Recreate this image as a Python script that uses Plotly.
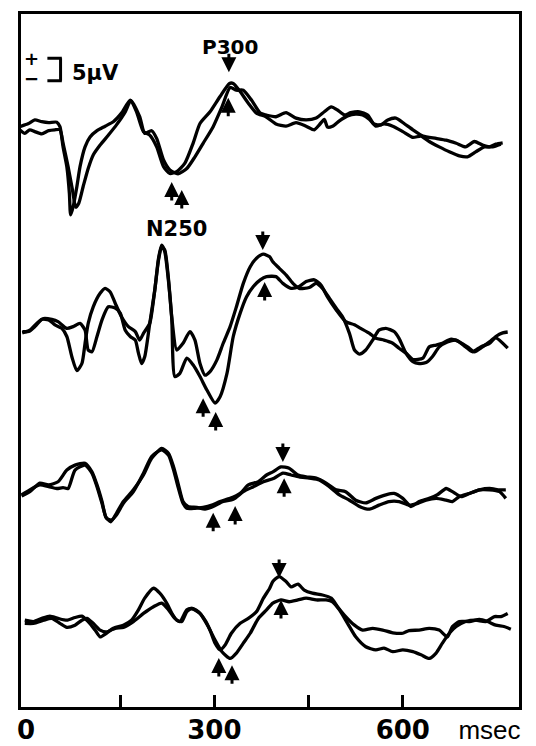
import plotly.graph_objects as go

# ---------------- data (time in ms, amplitude in microvolts) ----------------
p1_a_t = [-10,4,14,25,36,49,54,59,65,69,71,75,81,86,94,102,113,126,139,152,166,176,187,197,208,219,229,240,253,266,277,293,309,324,330,341,354,367,382,398,414,430,446,459,467,475,480,488,499,512,525,536,547,557,570,584,600,616,629,642,658,674,690,703,716,730,743,756]
p1_a_v = [0.3,1.0,1.8,1.4,1.2,1.3,0.3,-4.2,-8.6,-14.5,-19.3,-17.5,-13.0,-8.6,-4.2,-2.0,-0.6,0.4,1.4,3.3,6.2,3.6,-0.8,-1.6,-4.2,-8.6,-10.1,-9.7,-7.8,-3.4,1.0,3.6,7.0,9.9,9.9,8.1,5.5,3.3,2.5,0.9,0.4,1.2,0.4,-0.4,0.7,1.9,0.2,0.4,1.6,2.7,3.1,2.9,1.9,0.4,0.9,0.4,-0.8,-2.1,-1.8,-3.0,-4.2,-5.3,-6.2,-6.4,-5.3,-4.2,-4.2,-3.6]
p1_b_t = [-10,-2,6,14,25,36,46,54,59,67,74,79,84,91,99,107,118,131,144,158,167,181,189,200,208,219,229,242,256,269,282,298,312,325,335,346,359,373,382,398,414,430,446,462,475,486,496,507,517,531,544,554,565,576,589,602,616,632,653,669,685,700,714,727,738,748,759]
p1_b_v = [-0.4,-1.2,-0.4,-0.8,-1.3,-0.6,-0.4,-0.4,-3.4,-8.6,-13.8,-17.6,-16.7,-13.0,-9.0,-6.0,-3.8,-1.6,0.7,3.6,6.1,2.5,-1.2,-0.6,-2.3,-7.1,-9.3,-10.2,-9.0,-6.4,-3.4,0.3,4.7,9.0,8.4,8.4,6.2,3.3,2.9,2.5,3.4,2.2,1.8,2.2,3.6,4.7,4.0,2.9,3.4,3.6,2.9,0.9,0.7,1.8,2.2,1.0,-0.4,-1.8,-2.3,-2.7,-3.4,-4.2,-3.0,-3.8,-4.2,-3.6,-3.3]

p2_a_t = [-6,4,14,25,36,46,57,65,73,81,89,94,99,107,118,126,134,142,152,163,174,181,187,197,205,211,216,221,227,232,240,250,261,269,277,285,293,304,314,325,335,346,357,367,378,388,393,403,414,425,435,451,462,472,483,494,504,515,523,531,541,552,562,573,586,594,605,616,626,637,647,658,671,685,700,711,724,738,748,767]
p2_a_v = [0.1,0.1,1.2,2.8,2.7,1.6,0.8,-1.0,-5.5,-8.6,-7.0,-2.5,1.9,5.6,8.6,9.7,8.9,6.4,3.4,1.2,0.1,-1.8,-0.3,1.9,9.3,16.0,19.0,18.2,11.6,3.4,-4.0,-2.5,0.1,-1.8,-7.0,-9.6,-8.8,-6.2,-2.5,1.2,5.6,10.8,14.5,16.4,17.3,16.7,15.6,14.2,12.7,10.8,9.7,9.9,10.8,9.7,7.5,5.3,3.4,-0.3,-4.0,-4.9,-4.0,-1.8,0.4,0.8,0.1,-1.4,-4.7,-6.6,-7.0,-6.8,-5.5,-3.3,-2.2,-1.8,-3.3,-4.4,-3.3,-2.5,-1.3,-3.6]
p2_b_t = [-6,6,17,28,41,51,65,75,86,94,99,105,113,121,131,142,150,158,166,174,179,184,189,197,205,211,216,221,227,232,237,245,256,266,277,288,301,309,320,330,341,351,362,373,383,398,409,422,435,446,459,470,480,494,509,523,533,547,557,570,584,594,605,616,632,642,653,663,677,690,703,714,727,738,748,759,767]
p2_b_v = [-0.2,0.4,1.9,3.0,2.8,2.3,0.8,1.2,1.9,0.4,-4.0,-4.4,-1.0,2.7,5.6,5.3,4.2,0.4,-1.0,-1.8,-4.7,-7.0,-5.5,1.9,9.3,16.4,19.3,17.8,11.1,3.1,-9.9,-9.2,-5.8,-7.3,-9.9,-12.9,-15.8,-14.4,-9.2,-1.0,4.2,7.8,10.1,11.6,12.3,12.3,10.8,9.7,10.1,11.2,11.6,10.4,7.8,4.9,2.3,1.6,0.8,-0.3,-1.4,-1.8,-2.5,-3.6,-4.7,-6.1,-5.8,-3.3,-2.9,-2.5,-1.6,-2.2,-3.3,-4.4,-3.3,-2.2,-1.0,-0.2,0.0]

p3_a_t = [-7,6,22,36,49,59,67,78,94,105,113,121,128,136,144,155,171,187,200,216,227,235,242,250,256,269,282,296,309,325,341,354,370,383,393,406,419,433,446,462,478,494,509,525,541,557,573,586,600,613,626,642,655,669,679,693,706,722,738,754,764]
p3_a_v = [-0.4,0.7,1.8,1.4,1.0,1.2,1.0,5.1,6.2,4.4,1.4,-2.3,-5.6,-6.0,-4.9,-2.3,0.3,4.4,8.1,9.6,8.4,5.1,1.4,-2.3,-3.4,-3.4,-3.2,-2.7,-1.9,-1.2,-0.1,1.8,2.5,4.0,4.7,5.8,5.5,4.0,3.6,3.3,2.2,0.7,0.3,-1.6,-2.2,-1.2,-0.4,-0.1,-1.2,-3.0,-1.9,-1.2,-0.4,1.0,0.3,-0.8,-0.1,0.7,0.7,0.3,-1.2]
p3_b_t = [-7,6,22,36,51,65,78,94,105,113,121,127,135,144,155,171,187,200,216,227,235,242,250,258,272,285,298,314,330,346,362,378,395,409,422,435,451,467,483,499,515,531,547,562,578,594,610,624,637,653,669,679,690,706,722,738,754,764]
p3_b_v = [-0.7,0.3,2.2,1.8,2.5,5.1,6.2,6.6,4.7,1.8,-1.9,-5.3,-6.4,-4.5,-1.9,0.7,4.0,7.7,9.9,8.8,5.8,2.2,-1.9,-3.0,-3.2,-3.6,-3.0,-1.9,-1.4,0.3,1.4,2.5,3.3,4.4,4.0,3.6,3.3,2.9,1.4,-0.4,-1.6,-3.0,-3.6,-2.7,-1.9,-1.9,-2.7,-2.3,-1.6,-1.2,-1.6,-1.9,-0.8,-0.1,0.7,1.0,0.7,0.7]

p4_a_t = [-2,12,25,38,51,65,78,89,99,110,118,128,139,155,168,179,189,203,213,224,232,240,248,256,264,274,285,293,301,309,317,327,341,354,367,378,388,393,403,414,422,433,443,456,472,486,496,509,523,536,552,568,584,600,610,626,642,658,671,679,690,706,722,735,748,761,772]
p4_a_v = [0.4,0.1,0.8,1.3,0.8,0.4,1.0,1.3,0.1,-1.8,-3.3,-2.5,-1.4,-0.7,0.4,2.7,5.3,7.5,6.4,4.2,2.0,0.4,0.1,2.3,3.0,2.3,0.4,-1.8,-4.7,-6.2,-5.1,-2.5,-0.3,0.8,2.3,5.3,7.5,9.0,10.1,9.0,7.8,8.4,7.1,6.4,6.0,5.3,3.4,1.2,-0.7,-1.8,-1.4,-1.8,-2.4,-2.5,-1.9,-1.8,-1.4,-1.8,-3.3,-1.0,0.1,0.1,0.6,0.1,-0.7,-1.0,-1.6]
p4_b_t = [-2,12,28,41,54,65,78,89,97,107,118,128,142,155,171,187,203,216,227,237,245,256,264,277,290,301,312,325,335,346,357,370,383,393,406,419,433,446,462,478,488,499,512,525,541,557,570,584,600,616,629,642,653,663,674,685,700,716,732,746,756,767]
p4_b_v = [-0.3,-0.3,0.4,0.8,-0.3,-1.2,-0.7,0.4,0.8,-0.3,-1.8,-2.2,-1.4,-1.2,0.1,1.9,3.4,4.2,2.7,0.8,0.1,2.7,3.0,1.9,-1.0,-4.0,-6.6,-8.1,-6.9,-4.7,-2.5,0.8,2.7,4.2,4.9,4.5,4.9,5.3,4.9,4.9,4.5,2.7,-0.3,-3.3,-5.5,-6.2,-5.8,-6.6,-6.2,-6.6,-7.3,-8.1,-6.9,-4.7,-2.5,-1.0,0.1,0.4,0.1,1.2,1.2,1.9]

# latency markers: panel, time (ms), amplitude at arrow tip (uV), direction
arrow_panel = [1, 1, 1, 1, 2, 2, 2, 2, 3, 3, 3, 3, 4, 4, 4, 4]
arrow_t = [323, 322, 232, 248, 377, 380, 282, 302, 298, 333, 409, 411, 307, 328, 403, 406]
arrow_v = [12.4, 6.7, -12.0, -13.8, 18.2, 11.1, -14.7, -17.8, -4.4, -2.9, 6.9, 3.3, -8.0, -9.6, 9.8, 4.9]
arrow_dir = ["down", "up", "up", "up", "down", "up", "up", "up", "up", "up", "down", "up", "up", "up", "down", "up"]

tick_marks = [150, 300, 450, 600]
tick_label_vals = [0, 300, 600, 738]
tick_label_text = ["<b>0</b>", "<b>300</b>", "<b>600</b>",
                   '<span style="font-family:Liberation Sans">msec</span>']
scale_uv = 5

# ---------------- figure ----------------
BODY = 8                      # default page margin around the plot div
W, H = 536 - BODY, 746 - BODY
panels = [(p1_a_t, p1_a_v, p1_b_t, p1_b_v),
          (p2_a_t, p2_a_v, p2_b_t, p2_b_v),
          (p3_a_t, p3_a_v, p3_b_t, p3_b_v),
          (p4_a_t, p4_a_v, p4_b_t, p4_b_v)]

fig = go.Figure()
line_style = dict(color="black", width=3.3, shape="spline", smoothing=0.6)
for i, (at, av, bt, bv) in enumerate(panels):
    yref = "y" if i == 0 else f"y{i+1}"
    fig.add_trace(go.Scatter(x=at, y=av, mode="lines", line=line_style,
                             yaxis=yref, showlegend=False, hoverinfo="skip"))
    fig.add_trace(go.Scatter(x=bt, y=bv, mode="lines", line=line_style,
                             yaxis=yref, showlegend=False, hoverinfo="skip"))
# carrier for the label axis
fig.add_trace(go.Scatter(x=[None], y=[None], xaxis="x2", yaxis="y",
                         showlegend=False, hoverinfo="skip"))

# layout geometry (page pixels)
left_px, right_px, top_px, bottom_px = 21, 519, 14, 707
ml, mt = left_px - BODY, top_px - BODY
mr, mb = W - (right_px - BODY), H - (bottom_px - BODY)
px_per_uv = 4.5
baselines_px = [128, 332, 493, 622]   # page row of each panel's zero line
x_range = [-8, 785]

def yr(base):
    return [(base - bottom_px) / px_per_uv, (base - top_px) / px_per_uv]

bold = dict(family="DejaVu Sans", color="black", weight="bold")

fig.update_layout(
    width=W, height=H,
    margin=dict(l=ml, r=mr, t=mt, b=mb, pad=0, autoexpand=False),
    paper_bgcolor="white", plot_bgcolor="white",
    xaxis=dict(range=x_range, showline=True, mirror=True, linewidth=3, linecolor="black",
               tickmode="array", tickvals=tick_marks, ticks="inside", ticklen=12,
               tickwidth=2.5, tickcolor="black", showticklabels=False,
               showgrid=False, zeroline=False, automargin=False),
    xaxis2=dict(range=x_range, overlaying="x", side="bottom", anchor="y",
                tickmode="array", tickvals=tick_label_vals, ticktext=tick_label_text,
                ticks="", showline=False, showgrid=False, zeroline=False,
                tickfont=dict(family="DejaVu Sans", size=26, color="black"),
                ticklabelstandoff=5, automargin=False),
    yaxis=dict(range=yr(baselines_px[0]), showline=True, mirror=True, linewidth=3,
               linecolor="black", showticklabels=False, ticks="", showgrid=False,
               zeroline=False, automargin=False),
)
for i in range(1, 4):
    fig.update_layout(**{f"yaxis{i+1}": dict(range=yr(baselines_px[i]), overlaying="y",
                                             visible=False, automargin=False)})

# arrows
for p, t, v, d in zip(arrow_panel, arrow_t, arrow_v, arrow_dir):
    yref = "y" if p == 1 else f"y{p}"
    fig.add_annotation(x=t, y=v, xref="x", yref=yref, text="", showarrow=True,
                       arrowhead=2, arrowsize=1.0, arrowwidth=3, arrowcolor="black",
                       ax=0, ay=(-20 if d == "down" else 20), standoff=0)

# component labels
fig.add_annotation(x=325, y=18.0, xref="x", yref="y", text="P300", showarrow=False,
                   font=dict(size=20, **bold))
fig.add_annotation(x=239, y=-22.5, xref="x", yref="y", text="N250", showarrow=False,
                   font=dict(size=21, **bold))
# calibration bar
fig.add_annotation(x=110, y=12.3, xref="x", yref="y", text="5μV", showarrow=False,
                   font=dict(size=21, **bold))
fig.add_annotation(x=8, y=15.4, xref="x", yref="y", text="+", showarrow=False,
                   font=dict(size=18, **bold))
fig.add_annotation(x=8, y=10.9, xref="x", yref="y", text="−", showarrow=False,
                   font=dict(size=18, **bold))
bar_lo, bar_hi = 10.5, 10.5 + scale_uv
fig.add_shape(type="line", x0=55, x1=55, y0=bar_lo, y1=bar_hi, xref="x", yref="y",
              line=dict(color="black", width=3))
fig.add_shape(type="line", x0=34, x1=57, y0=bar_hi, y1=bar_hi, xref="x", yref="y",
              line=dict(color="black", width=3))
fig.add_shape(type="line", x0=34, x1=57, y0=bar_lo, y1=bar_lo, xref="x", yref="y",
              line=dict(color="black", width=3))

fig.write_html("out.html")
